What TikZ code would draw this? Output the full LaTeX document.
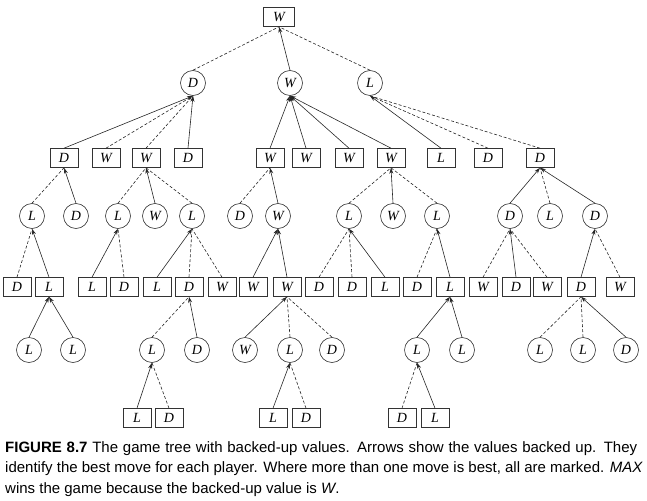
\documentclass[tikz,border=0pt]{standalone}
\usepackage{fontspec}
\setmainfont{Liberation Serif}
\newfontfamily\capfont{Liberation Sans}
\usetikzlibrary{arrows.meta}
\begin{document}
\begin{tikzpicture}[x=1pt,y=-1pt,
  bx/.style={draw=black!80, line width=0.6pt, minimum width=28pt, minimum height=19pt, inner sep=0pt, font=\fontsize{14}{14}\selectfont\itshape},
  cr/.style={draw=black!80, circle, line width=0.6pt, minimum size=25pt, inner sep=0pt, font=\fontsize{14}{14}\selectfont\itshape},
  best/.style={draw=black!85, line width=0.6pt, -{Stealth[length=6pt,width=4pt]}},
  oth/.style={draw=black!85, line width=0.6pt, dash pattern=on 3pt off 2pt},
  capt/.style={anchor=base west, inner sep=0pt, font=\capfont\fontsize{15}{18}\selectfont}
]
\useasboundingbox (0,0) rectangle (647,500);
% level 0
\node[bx, minimum width=31pt] (r) at (279,17) {W};
% level 1
\node[cr] (a1) at (193,83) {D};
\node[cr] (a2) at (290,83) {W};
\node[cr] (a3) at (370,83) {L};
% level 2
\foreach \n/\x/\t in {b1/64/D, b2/106/W, b3/146/W, b4/188/D, b5/270/W, b6/306/W, b7/349/W, b8/391/W, b9/441/L, b10/488/D, b11/540/D}
  \node[bx] (\n) at (\x,158) {\t};
% level 3
\foreach \n/\x/\t in {c1/32/L, c2/76/D, c3/118/L, c4/155/W, c5/192/L, c6/240/D, c7/278/W, c8/349/L, c9/393/W, c10/437/L, c11/510/D, c12/550/L, c13/595/D}
  \node[cr] (\n) at (\x,216) {\t};
% level 4
\foreach \n/\x/\t in {d1/17/D, d2/49/L, d3/92/L, d4/124/D, d5/157/L, d6/189/D, d7/222/W, d8/253/W, d9/287/W, d10/319/D, d11/352/D, d12/385/L, d13/417/D, d14/450/L, d15/483/W, d16/516/D, d17/547/W, d18/581/D, d19/620/W}
  \node[bx] (\n) at (\x,287) {\t};
% level 5
\foreach \n/\x/\t in {e1/29/L, e2/73/L, e3/152/L, e4/197/D, e5/245/W, e6/290/L, e7/332/D, e8/417/L, e9/462/L, e10/540/L, e11/583/L, e12/626/D}
  \node[cr] (\n) at (\x,350) {\t};
% level 6
\foreach \n/\x/\t in {f1/137/L, f2/169/D, f3/273/L, f4/306/D, f5/402/D, f6/435/L}
  \node[bx] (\n) at (\x,418) {\t};
% best (solid, arrow to parent)
\foreach \c/\p in {a2/r, b1/a1, b4/a1, b5/a2, b6/a2, b7/a2, b8/a2, b9/a3,
  c2/b1, c4/b3, c7/b5, c9/b8, c11/b11, c13/b11,
  d2/c1, d3/c3, d5/c5, d8/c7, d9/c7, d12/c8, d14/c10, d16/c11, d18/c13,
  e1/d2, e2/d2, e4/d6, e5/d9, e8/d14, e9/d14, e12/d18,
  f1/e3, f3/e6, f6/e8}
  \draw[best] (\c.north) -- (\p.south);
% other moves (dashed)
\foreach \c/\p in {a1/r, a3/r, b2/a1, b3/a1, b10/a3, b11/a3,
  c1/b1, c3/b3, c5/b3, c6/b5, c8/b8, c10/b8, c12/b11,
  d1/c1, d4/c3, d6/c5, d7/c5, d10/c8, d11/c8, d13/c10, d15/c11, d17/c11, d19/c13,
  e3/d6, e6/d9, e7/d9, e10/d18, e11/d18,
  f2/e3, f4/e6, f5/e8}
  \draw[oth] (\c.north) -- (\p.south);
% caption
\node[capt] (cap1) at (5,452) {\hbox to 632pt{\textbf{FIGURE 8.7} The game tree with backed-up values. Arrows show the values backed up. They}};
\node[capt] (cap2) at (5,472.5) {identify the best move for each player. Where more than one move is best, all are marked. \textit{MAX}};
\node[capt] (cap3) at (5,493) {wins the game because the backed-up value is \textit{W}.};
\end{tikzpicture}
\end{document}
